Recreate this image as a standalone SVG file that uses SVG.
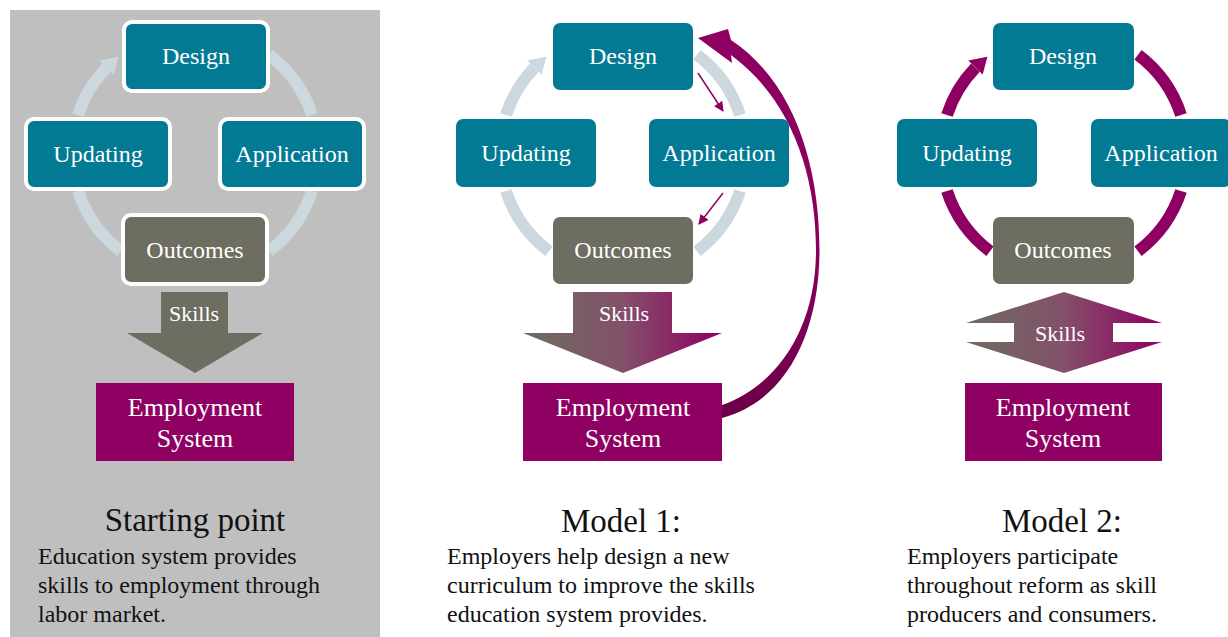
<svg xmlns="http://www.w3.org/2000/svg" width="1228" height="637" viewBox="0 0 1228 637">
<defs>
<style>
.teal{fill:#037A94}
.gray{fill:#6D6D61}
.bord{stroke:#FFFFFF;stroke-width:4}
.emp{fill:#8E0062}
.nt{font-size:24px;fill:#FFFFFF;text-anchor:middle}
.et{font-size:26px;fill:#FFFFFF;text-anchor:middle}
.st{font-size:22px;fill:#FFFFFF;text-anchor:middle}
.title{font-size:33px;fill:#111111;text-anchor:middle}
.desc{font-size:24px;fill:#111111}
.ring{fill:none;stroke:#CCD7DE;stroke-width:12}
.pring{fill:none;stroke:#8E0062;stroke-width:12}
.thin{fill:none;stroke:#8E0062;stroke-width:1.5}
</style>
<linearGradient id="skillGrad" x1="0" y1="0" x2="1" y2="0">
<stop offset="0" stop-color="#6D6D61"/>
<stop offset="0.5" stop-color="#84506A"/>
<stop offset="1" stop-color="#8E0062"/>
</linearGradient>
<linearGradient id="curveGrad" x1="0" y1="0" x2="0" y2="1">
<stop offset="0" stop-color="#8E0062"/>
<stop offset="0.6" stop-color="#88005E"/>
<stop offset="1" stop-color="#6A0046"/>
</linearGradient>
<marker id="smallHead" markerWidth="10" markerHeight="10" refX="9" refY="5" orient="auto" markerUnits="userSpaceOnUse">
<path d="M0,0 L10,5 L0,10 Z" fill="#8E0062"/>
</marker>
</defs>

<rect id="startBg" x="10" y="10" width="370" height="627" fill="#BFBFBF"/>

<g id="connectors">
<path class="ring" d="M 269 54.8 A 123 123 0 0 1 312 115"/>
<path class="ring" d="M 312 191 A 123 123 0 0 1 269 251.2"/>
<path class="ring" d="M 121 251.2 A 123 123 0 0 1 78 191"/>
<path class="ring" d="M 78 115 A 123 123 0 0 1 106.5 67.6"/>
<polygon fill="#CCD7DE" points="118.4,56.7 99.3,60.6 113.7,74.5"/>
<path class="ring" d="M 697 54.8 A 123 123 0 0 1 740 115"/>
<path class="ring" d="M 740 191 A 123 123 0 0 1 697 251.2"/>
<path class="ring" d="M 549 251.2 A 123 123 0 0 1 506 191"/>
<path class="ring" d="M 506 115 A 123 123 0 0 1 534.5 67.6"/>
<polygon fill="#CCD7DE" points="546.4,56.7 527.3,60.6 541.7,74.5"/>
<line class="thin" x1="698" y1="73" x2="723" y2="111" marker-end="url(#smallHead)"/>
<line class="thin" x1="723" y1="193" x2="699" y2="224" marker-end="url(#smallHead)"/>
<path fill="url(#curveGrad)" d="M 722 405 C 776 386, 816 330, 816 250 C 816 170, 789 98, 731 55 L 732 63 L 698 38 L 728 29 L 731 40 C 794 82, 819.5 165, 819.5 250 C 819.5 336, 784 402, 722 418 Z"/>
<path class="pring" d="M 1138 54.8 A 123 123 0 0 1 1181 115"/>
<path class="pring" d="M 1181 191 A 123 123 0 0 1 1138 251.2"/>
<path class="pring" d="M 990 251.2 A 123 123 0 0 1 947 191"/>
<path class="pring" d="M 947 115 A 123 123 0 0 1 975.5 67.6"/>
<polygon fill="#8E0062" points="987.4,56.7 968.3,60.6 982.7,74.5"/>
</g>

<g font-family="'Liberation Serif', 'DejaVu Serif', 'Times New Roman', serif">
<g id="sp-design"><rect class="teal bord" x="124" y="22" width="144" height="69" rx="8"/><text class="nt" x="196" y="64">Design</text></g>
<g id="sp-updating"><rect class="teal bord" x="26" y="119" width="144" height="70" rx="8"/><text class="nt" x="98" y="162">Updating</text></g>
<g id="sp-application"><rect class="teal bord" x="220" y="119" width="144" height="70" rx="8"/><text class="nt" x="292" y="162">Application</text></g>
<g id="sp-outcomes"><rect class="gray bord" x="123" y="215" width="144" height="69" rx="8"/><text class="nt" x="195" y="258">Outcomes</text></g>
<g id="sp-skills"><polygon class="gray" points="161,292 228,292 228,333 263,333 195,373 127,333 161,333"/><text class="st" x="194" y="321">Skills</text></g>
<g id="sp-employment"><rect class="emp" x="96" y="383" width="198" height="78"/><text class="et" x="195" y="416">Employment</text><text class="et" x="195" y="447">System</text></g>
<g id="sp-caption">
<text class="title" x="195" y="531">Starting point</text>
<text class="desc" x="38" y="564">Education system provides</text>
<text class="desc" x="38" y="593">skills to employment through</text>
<text class="desc" x="38" y="622">labor market.</text>
</g>

<g id="m1-design"><rect class="teal" x="553" y="23" width="140" height="67" rx="7"/><text class="nt" x="623" y="64">Design</text></g>
<g id="m1-updating"><rect class="teal" x="456" y="119" width="140" height="68" rx="7"/><text class="nt" x="526" y="161">Updating</text></g>
<g id="m1-application"><rect class="teal" x="649" y="119" width="140" height="68" rx="7"/><text class="nt" x="719" y="161">Application</text></g>
<g id="m1-outcomes"><rect class="gray" x="553" y="217" width="140" height="67" rx="7"/><text class="nt" x="623" y="258">Outcomes</text></g>
<g id="m1-skills"><polygon fill="url(#skillGrad)" points="573,292 672,292 672,333 722,333 623,373 523,333 573,333"/><text class="st" x="624" y="321">Skills</text></g>
<g id="m1-employment"><rect class="emp" x="523" y="383" width="199" height="78"/><text class="et" x="623" y="416">Employment</text><text class="et" x="623" y="447">System</text></g>
<g id="m1-caption">
<text class="title" x="621" y="532">Model 1:</text>
<text class="desc" x="447" y="564">Employers help design a new</text>
<text class="desc" x="447" y="593">curriculum to improve the skills</text>
<text class="desc" x="447" y="622">education system provides.</text>
</g>

<g id="m2-design"><rect class="teal" x="993" y="23" width="141" height="67" rx="7"/><text class="nt" x="1063" y="64">Design</text></g>
<g id="m2-updating"><rect class="teal" x="897" y="119" width="140" height="68" rx="7"/><text class="nt" x="967" y="161">Updating</text></g>
<g id="m2-application"><rect class="teal" x="1091" y="119" width="140" height="68" rx="7"/><text class="nt" x="1161" y="161">Application</text></g>
<g id="m2-outcomes"><rect class="gray" x="993" y="217" width="141" height="67" rx="7"/><text class="nt" x="1063" y="258">Outcomes</text></g>
<g id="m2-skills"><polygon fill="url(#skillGrad)" points="1064,292 1162,323 1113,323 1113,342 1162,342 1064,373 966,342 1014,342 1014,323 966,323"/><text class="st" x="1060" y="341">Skills</text></g>
<g id="m2-employment"><rect class="emp" x="965" y="383" width="197" height="78"/><text class="et" x="1063" y="416">Employment</text><text class="et" x="1063" y="447">System</text></g>
<g id="m2-caption">
<text class="title" x="1062" y="532">Model 2:</text>
<text class="desc" x="907" y="564">Employers participate</text>
<text class="desc" x="907" y="593">throughout reform as skill</text>
<text class="desc" x="907" y="622">producers and consumers.</text>
</g>
</g>
</svg>
